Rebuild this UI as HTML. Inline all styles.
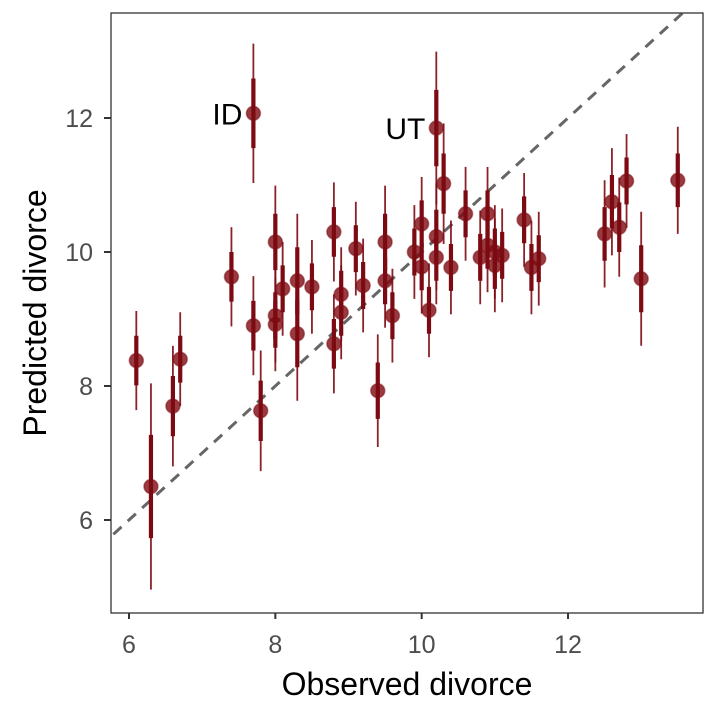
<!DOCTYPE html>
<html><head><meta charset="utf-8"><style>
html,body{margin:0;padding:0;background:#fff}
svg{display:block;font-family:"Liberation Sans",Arial,sans-serif}
</style></head><body>
<svg id="chart" width="720" height="720" viewBox="0 0 720 720">
<rect width="720" height="720" fill="#fff"/>
<g id="marks"></g>
<rect x="111" y="13" width="592" height="600" fill="none" stroke="#333" stroke-width="1.3"/>
<g id="axes"></g>
<text x="407" y="695" text-anchor="middle" font-size="32" fill="#000">Observed divorce</text>
<text transform="translate(46,313) rotate(-90)" text-anchor="middle" font-size="32" fill="#000">Predicted divorce</text>
</svg>
<script>
const observed = [6.1,6.3,6.6,6.7,7.4,7.7,7.7,7.8,8.0,8.0,8.0,8.1,8.3,8.3,8.5,8.8,8.8,8.9,8.9,9.1,9.2,9.4,9.5,9.5,9.6,9.9,10.0,10.0,10.1,10.2,10.2,10.2,10.3,10.4,10.6,10.8,10.9,10.9,11.0,11.0,11.1,11.4,11.5,11.6,12.5,12.6,12.7,12.8,13.0,13.5];
const predicted = [8.38,6.5,7.7,8.4,9.63,12.07,8.9,7.63,10.15,9.05,8.92,9.45,9.57,8.78,9.48,10.3,8.63,9.37,9.1,10.05,9.5,7.93,10.15,9.57,9.05,10.0,10.42,9.78,9.13,11.85,10.23,9.92,11.02,9.77,10.57,9.92,10.57,10.1,10.0,9.8,9.95,10.48,9.77,9.9,10.27,10.75,10.37,11.06,9.6,11.07];
const predSd = [0.37,0.77,0.45,0.35,0.37,0.52,0.37,0.45,0.42,0.35,0.35,0.35,0.5,0.5,0.35,0.37,0.37,0.35,0.35,0.35,0.35,0.42,0.42,0.35,0.35,0.35,0.35,0.35,0.35,0.57,0.4,0.35,0.45,0.35,0.35,0.35,0.35,0.35,0.35,0.35,0.35,0.35,0.35,0.35,0.4,0.4,0.37,0.35,0.5,0.4];
const labelNames = ["ID","UT"];
const labelIdx = [5,29];
const xTicks = [6,8,10,12];
const yTicks = [6,8,10,12];

const NS="http://www.w3.org/2000/svg";
const sx = v => 129 + (v-6)*73.17;
const sy = v => 252 - (v-10)*67;
function mk(tag, attrs, parent){const e=document.createElementNS(NS,tag);for(const k in attrs)e.setAttribute(k,attrs[k]);parent.appendChild(e);return e;}
const marks=document.getElementById('marks'), axes=document.getElementById('axes');

const clip=mk('clipPath',{id:'pc'},marks); mk('rect',{x:111,y:13,width:592,height:600},clip);
const diag=mk('line',{x1:sx(5),y1:sy(5),x2:sx(14),y2:sy(14),stroke:'#666','stroke-width':3,'stroke-dasharray':'11,8.5','clip-path':'url(#pc)'},marks);



observed.forEach((o,i)=>{
  const g=mk('g',{},marks);
  
  
  const p=predicted[i], s=predSd[i];
  mk('line',{x1:sx(o),x2:sx(o),y1:sy(p-2*s),y2:sy(p+2*s),stroke:'#7d0a12','stroke-width':1.8,'stroke-opacity':0.9},g);
  mk('line',{x1:sx(o),x2:sx(o),y1:sy(p-s),y2:sy(p+s),stroke:'#7d0a12','stroke-width':4.2},g);
  mk('circle',{cx:sx(o),cy:sy(p),r:7,fill:'#7d0a12','fill-opacity':0.8,stroke:'#7d0a12','stroke-opacity':0.5,'stroke-width':1.5},g);
});
labelNames.forEach((n,k)=>{
  const i=labelIdx[k];
  const t=mk('text',{x:sx(observed[i])-11,y:sy(predicted[i])+11,'text-anchor':'end','font-size':30,fill:'#000'},marks);
  t.textContent=n;
  
  
});
xTicks.forEach(v=>{
  mk('line',{x1:sx(v),x2:sx(v),y1:613,y2:619,stroke:'#333','stroke-width':2},axes);
  const t=mk('text',{x:sx(v),y:653,'text-anchor':'middle','font-size':25,fill:'#4d4d4d'},axes);
  t.textContent=v;
  
  
});
yTicks.forEach(v=>{
  mk('line',{x1:104,x2:111,y1:sy(v),y2:sy(v),stroke:'#333','stroke-width':2},axes);
  const t=mk('text',{x:93,y:sy(v)+9,'text-anchor':'end','font-size':25,fill:'#4d4d4d'},axes);
  t.textContent=v;
  
  
});
</script>
</body></html>
